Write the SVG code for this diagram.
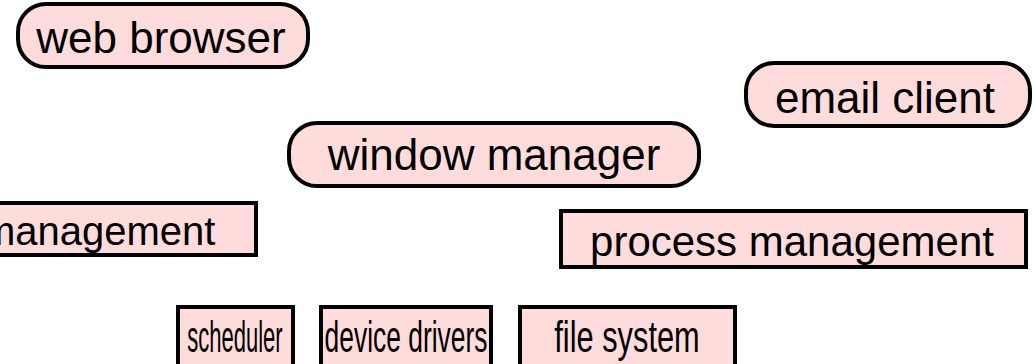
<svg xmlns="http://www.w3.org/2000/svg" width="1035" height="364" viewBox="0 0 1035 364">
  <style>
    .box { fill: #ffdcdc; stroke: #000; stroke-width: 4; }
    .lbl { font-family: "Liberation Sans", Arial, sans-serif; font-size: 44px; fill: #000; text-anchor: middle; }
  </style>
  <rect width="1035" height="364" fill="#fff"/>

  <!-- applications (rounded) -->
  <g id="web-browser">
    <rect class="box" x="18" y="4" width="290" height="63" rx="28"/>
    <text class="lbl" x="161" y="53">web browser</text>
  </g>
  <g id="email-client">
    <rect class="box" x="746" y="63" width="284" height="63" rx="28"/>
    <text class="lbl" x="885" y="113">email client</text>
  </g>
  <g id="window-manager">
    <rect class="box" x="289" y="123" width="410" height="63" rx="28"/>
    <text class="lbl" x="494" y="170">window manager</text>
  </g>

  <!-- kernel services (square) -->
  <g id="memory-management">
    <rect class="box" x="-20" y="203" width="276" height="52"/>
    <text class="lbl" x="-18" y="245" style="text-anchor:start;font-size:40px">management</text>
  </g>
  <g id="process-management">
    <rect class="box" x="561" y="211" width="465" height="56"/>
    <text class="lbl" x="792" y="256" style="font-size:42px">process management</text>
  </g>

  <!-- lowest layer: labels squeezed horizontally to fit their boxes -->
  <g id="scheduler">
    <rect class="box" x="178" y="307" width="115" height="70"/>
    <text class="lbl" transform="translate(235 352) scale(0.5 1)">scheduler</text>
  </g>
  <g id="device-drivers">
    <rect class="box" x="321" y="307" width="170" height="70"/>
    <text class="lbl" transform="translate(406 352) scale(0.6 1)">device drivers</text>
  </g>
  <g id="file-system">
    <rect class="box" x="520" y="307" width="215" height="70"/>
    <text class="lbl" transform="translate(627 352) scale(0.7 1)">file system</text>
  </g>

  <g id="connectors"/>
</svg>
